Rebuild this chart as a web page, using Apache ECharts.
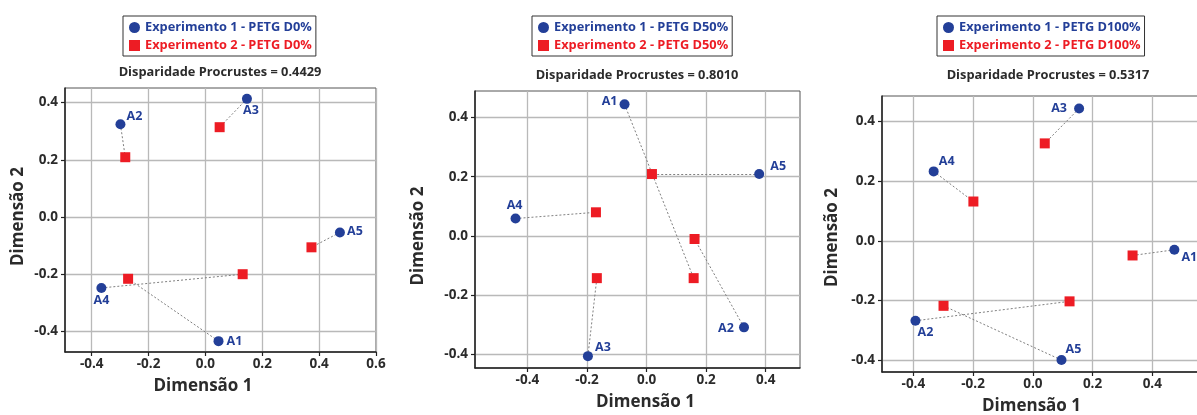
<!DOCTYPE html>
<html>
<head>
<meta charset="utf-8">
<script src="https://cdn.jsdelivr.net/npm/echarts@6/dist/echarts.min.js"></script>
<style>
  html, body { margin: 0; padding: 0; background: #fff; }
  #chart { width: 1197px; height: 415px; }
</style>
</head>
<body>
<div id="chart"></div>
<script>
// Procrustes comparison of two perceptual maps (Experimento 1 vs Experimento 2)
const pointNames = ['A1', 'A2', 'A3', 'A4', 'A5'];
const panelLabels = ['D0%', 'D50%', 'D100%'];
const disparities = ['0.4429', '0.8010', '0.5317'];

// tick values per panel
const xTicks = [
  [-0.4, -0.2, 0, 0.2, 0.4, 0.6],
  [-0.4, -0.2, 0, 0.2, 0.4],
  [-0.4, -0.2, 0, 0.2, 0.4]
];
const yTicks = [
  [-0.4, -0.2, 0, 0.2, 0.4],
  [-0.4, -0.2, 0, 0.2, 0.4],
  [-0.4, -0.2, 0, 0.2, 0.4]
];

// Experimento 1 coordinates [Dimensão 1, Dimensão 2], in pointNames order
const exp1D0   = [[0.046, -0.434], [-0.299, 0.324], [0.146, 0.413], [-0.366, -0.248], [0.473, -0.054]];
const exp1D50  = [[-0.074, 0.444], [0.327, -0.308], [-0.197, -0.405], [-0.440, 0.059], [0.378, 0.209]];
const exp1D100 = [[0.474, -0.030], [-0.393, -0.268], [0.155, 0.444], [-0.332, 0.233], [0.096, -0.400]];

// Experimento 2 coordinates (after Procrustes fit), same order
const exp2D0   = [[-0.272, -0.216], [-0.282, 0.209], [0.050, 0.314], [0.131, -0.200], [0.373, -0.106]];
const exp2D50  = [[0.158, -0.142], [0.161, -0.010], [-0.167, -0.142], [-0.170, 0.080], [0.018, 0.209]];
const exp2D100 = [[0.334, -0.049], [0.123, -0.203], [0.040, 0.327], [-0.199, 0.132], [-0.299, -0.218]];

const exp1Sets = [exp1D0, exp1D50, exp1D100];
const exp2Sets = [exp2D0, exp2D50, exp2D100];

// ---- layout and styling ----
const BLUE = '#233f98';
const RED = '#ed1c24';
const FONT = '"Open Sans", sans-serif';
const layouts = [
  { grid: { left: 65,  top: 88, width: 311, height: 264 }, x: [-0.494, 0.6],   y: [-0.472, 0.451],
    legendLeft: 123, titleX: 220, titleY: 72, xNamePad: [0, 35, 0, 0], yNamePad: [0, 0, 0, 7], yGap: 38 },
  { grid: { left: 475, top: 91, width: 325, height: 277 }, x: [-0.576, 0.515], y: [-0.445, 0.489],
    legendLeft: 532, titleX: 637, titleY: 75, xNamePad: [0, 0, 0, 16], yNamePad: [0, 13, 0, 0], yGap: 48 },
  { grid: { left: 882, top: 96, width: 330, height: 276 }, x: [-0.505, 0.6],   y: [-0.44, 0.486],
    legendLeft: 937, titleX: 1048, titleY: 75, xNamePad: [0, 31, 0, 0], yNamePad: [0, 7, 0, 0], yGap: 41 }
];
// label centre offsets from each Experimento 1 point, in px
const labelOffsets = [
  [[16, 0], [14, -8], [4, 12], [0, 13], [15, -1]],
  [[-15, -3], [-18, 1], [15, -9], [-1, -13], [19, -8]],
  [[15, 8], [10, 12], [-20, 0], [13, -10], [12, -11]]
];

const option = {
  animation: false,
  backgroundColor: '#fff',
  textStyle: { fontFamily: FONT },
  title: [], legend: [], grid: [], xAxis: [], yAxis: [], series: []
};

layouts.forEach((L, i) => {
  const name1 = 'Experimento 1 - PETG ' + panelLabels[i];
  const name2 = 'Experimento 2 - PETG ' + panelLabels[i];

  option.title.push({
    text: 'Disparidade Procrustes = ' + disparities[i],
    left: L.titleX, top: L.titleY - 9, textAlign: 'center', padding: 0,
    textStyle: { fontFamily: FONT, fontWeight: 'bold', fontSize: 12.8, color: '#2b2b2b', lineHeight: 18 }
  });

  option.legend.push({
    orient: 'vertical', left: L.legendLeft, top: 16,
    padding: [4, 4, 3, 6], itemGap: 3, itemWidth: 11, itemHeight: 11,
    borderColor: '#333', borderWidth: 1, selectedMode: false,
    textStyle: { fontFamily: FONT, fontWeight: 'bold', fontSize: 12.8, lineHeight: 15 },
    data: [
      { name: name1, icon: 'circle', itemStyle: { color: BLUE, opacity: 1 }, textStyle: { color: BLUE } },
      { name: name2, icon: 'rect', itemStyle: { color: RED, opacity: 1 }, textStyle: { color: RED } }
    ]
  });

  option.grid.push(Object.assign({
    show: true, borderColor: '#555', borderWidth: 1,
    containLabel: false, outerBoundsMode: 'none'
  }, L.grid));

  const axisCommon = {
    axisLine: { show: true, onZero: false, lineStyle: { color: '#222', width: 1.5 } },
    splitLine: { show: true, lineStyle: { color: '#b9b9b9', width: 1.3 } },
    nameLocation: 'middle'
  };
  const labelStyle = { fontFamily: FONT, fontWeight: 'bold', fontSize: 13.5, color: '#2b2b2b',
                       formatter: v => v.toFixed(1) };
  const tickStyle = { show: true, inside: false, length: 4, lineStyle: { color: '#222', width: 1.2 } };

  option.xAxis.push(Object.assign({}, axisCommon, {
    type: 'value', gridIndex: i, min: L.x[0], max: L.x[1],
    axisTick: Object.assign({ customValues: xTicks[i] }, tickStyle),
    axisLabel: Object.assign({ customValues: xTicks[i], margin: 5 }, labelStyle),
    name: 'Dimensão 1', nameGap: 26,
    nameTextStyle: { fontFamily: FONT, fontWeight: 'bold', fontSize: 17, color: '#2b2b2b', padding: L.xNamePad }
  }));
  option.yAxis.push(Object.assign({}, axisCommon, {
    type: 'value', gridIndex: i, min: L.y[0], max: L.y[1],
    axisTick: Object.assign({ customValues: yTicks[i] }, tickStyle),
    axisLabel: Object.assign({ customValues: yTicks[i], margin: 7 }, labelStyle),
    name: 'Dimensão 2', nameGap: L.yGap,
    nameTextStyle: { fontFamily: FONT, fontWeight: 'bold', fontSize: 17, color: '#2b2b2b', padding: L.yNamePad }
  }));

  const e1 = exp1Sets[i], e2 = exp2Sets[i];

  // dotted connectors between matching points
  option.series.push({
    type: 'lines', coordinateSystem: 'cartesian2d', xAxisIndex: i, yAxisIndex: i,
    silent: true, z: 1,
    lineStyle: { color: '#808080', width: 1, type: [2, 2], opacity: 1 },
    data: e1.map((p, k) => ({ coords: [p, e2[k]] }))
  });

  option.series.push({
    name: name2, type: 'scatter', xAxisIndex: i, yAxisIndex: i, z: 3,
    symbol: 'rect', symbolSize: 10, itemStyle: { color: RED, opacity: 1 },
    data: e2
  });

  option.series.push({
    name: name1, type: 'scatter', xAxisIndex: i, yAxisIndex: i, z: 4,
    symbol: 'circle', symbolSize: 10, itemStyle: { color: BLUE, opacity: 1 },
    data: e1.map((p, k) => ({
      value: p, name: pointNames[k],
      label: { offset: labelOffsets[i][k] }
    })),
    label: {
      show: true, position: 'inside', formatter: '{b}',
      fontFamily: FONT, fontWeight: 'bold', fontSize: 12.5, color: BLUE,
      align: 'center', verticalAlign: 'middle'
    }
  });
});

const chart = echarts.init(document.getElementById('chart'), null, { renderer: 'canvas' });
chart.setOption(option);
</script>
</body>
</html>
